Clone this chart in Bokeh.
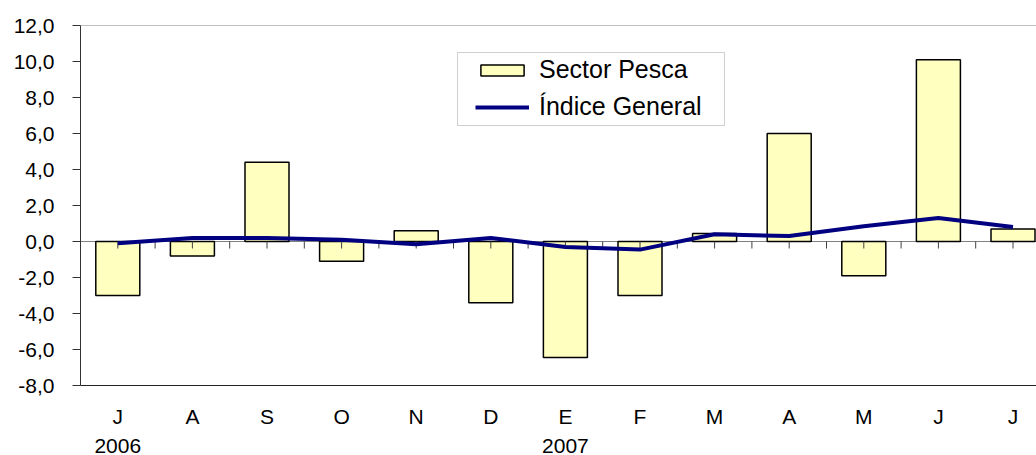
from bokeh.plotting import figure
from bokeh.models import (Range1d, FixedTicker, LinearAxis, Span, BoxAnnotation,
                          Legend, LegendItem, ColumnDataSource)
from bokeh.embed import file_html
from bokeh.resources import INLINE

# ---- data ----
months = ["J", "A", "S", "O", "N", "D", "E", "F", "M", "A", "M", "J", "J"]
years = ["2006", "2007"]
year_index = [0, 6]
pesca = [-3.0, -0.8, 4.4, -1.1, 0.6, -3.4, -6.45, -3.0, 0.45, 6.0, -1.9, 10.1, 0.7]
indice = [-0.1, 0.2, 0.2, 0.1, -0.15, 0.2, -0.3, -0.45, 0.4, 0.3, 0.85, 1.3, 0.8]
y_ticks = [-8, -6, -4, -2, 0, 2, 4, 6, 8, 10, 12]
y_labels = ["-8,0", "-6,0", "-4,0", "-2,0", "0,0", "2,0", "4,0", "6,0", "8,0", "10,0", "12,0"]

FONT = "Liberation Sans"
x = list(range(len(months)))
src = ColumnDataSource(dict(x=x, pesca=pesca, indice=indice))

p = figure(width=1036, height=455, output_backend="svg", toolbar_location=None,
           x_range=Range1d(-0.5, 12.315), y_range=Range1d(-8, 12),
           min_border_left=80, min_border_right=0, min_border_top=25, min_border_bottom=70)
p.outline_line_color = None
p.xgrid.grid_line_color = None
p.ygrid.grid_line_color = None

# y axis
ya = p.left[0]
ya.ticker = FixedTicker(ticks=y_ticks)
ya.major_label_overrides = dict(zip(y_ticks, y_labels))
ya.minor_tick_line_color = None
ya.major_tick_out = 8
ya.major_tick_in = 0
ya.axis_line_color = "#333333"
ya.major_tick_line_color = "#333333"
ya.major_label_text_font = FONT
ya.major_label_text_font_size = "21px"
ya.major_label_text_color = "black"
ya.major_label_standoff = 18

# x axis (months)
xa = p.below[0]
xa.ticker = FixedTicker(ticks=x)
xa.major_label_overrides = dict(zip(x, months))
xa.major_tick_out = 0
xa.major_tick_in = 0
xa.major_tick_line_color = None
xa.minor_tick_line_color = None
xa.axis_line_color = "#222222"
xa.major_label_text_font = FONT
xa.major_label_text_font_size = "21px"
xa.major_label_text_color = "black"
xa.major_label_standoff = 19

# year axis
yr = LinearAxis(ticker=FixedTicker(ticks=year_index),
                major_label_overrides=dict(zip(year_index, years)),
                axis_line_color=None, major_tick_line_color=None,
                minor_tick_line_color=None, major_tick_out=0, major_tick_in=0,
                major_label_standoff=8, major_label_text_font=FONT,
                major_label_text_font_size="21px", major_label_text_color="black")
p.add_layout(yr, "below")

# frame top line and zero line
p.add_layout(Span(location=12, dimension="width", line_color="#808080", line_width=1))
p.add_layout(Span(location=0, dimension="width", line_color="#808080", line_width=1,
                  level="underlay"))

bars = p.vbar(x="x", top="pesca", bottom=0, width=0.59, source=src,
              fill_color="#FFFFC0", line_color="black", line_width=1.5)

# category ticks along the zero line (centres and boundaries)
tick_x = [i * 0.5 for i in range(2 * len(months))]
p.segment(x0=tick_x, y0=[0] * len(tick_x), x1=tick_x, y1=[-0.39] * len(tick_x),
          line_color="#404040", line_width=1)

line = p.line("x", "indice", source=src, line_color="#000080", line_width=4)

# legend box
p.add_layout(BoxAnnotation(left=4.554, right=8.133, top=10.5, bottom=6.444,
                           fill_color=None, fill_alpha=0, line_color="#606060", line_width=1))
legend = Legend(items=[LegendItem(label="Sector Pesca", renderers=[bars]),
                       LegendItem(label="Índice General", renderers=[line])],
                location=(395, 264), border_line_color=None, background_fill_alpha=0,
                padding=5, margin=0, spacing=8, glyph_width=54, glyph_height=14,
                label_height=28, label_standoff=10, label_text_font=FONT,
                label_text_font_size="25px", label_text_color="black")
p.add_layout(legend)

open("out.html", "w").write(file_html(p, INLINE))
